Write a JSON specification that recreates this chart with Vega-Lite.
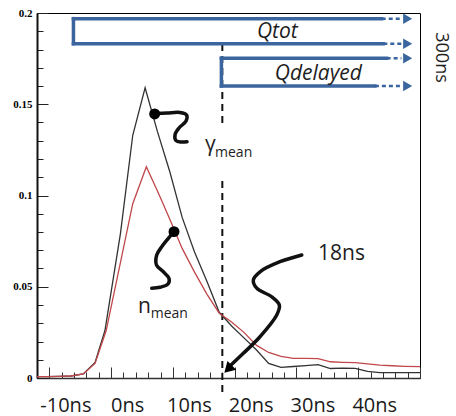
{
  "$schema": "https://vega.github.io/schema/vega-lite/v6.json",
  "width": 383,
  "height": 365,
  "autosize": {"type": "none"},
  "padding": {"left": 37, "top": 13, "right": 36, "bottom": 38},
  "config": {"view": {"stroke": "#000", "strokeWidth": 1}, "font": "Open Sans"},
  "datasets": {
    "curves": [
      {"s": "gamma", "t": -12, "v": 0.0008}, {"s": "gamma", "t": -10.5, "v": 0.0008}, {"s": "gamma", "t": -8.5, "v": 0.0009},
      {"s": "gamma", "t": -6.5, "v": 0.0011}, {"s": "gamma", "t": -4.5, "v": 0.0022}, {"s": "gamma", "t": -2.6, "v": 0.0085},
      {"s": "gamma", "t": -1.0, "v": 0.026}, {"s": "gamma", "t": 1.5, "v": 0.079}, {"s": "gamma", "t": 3.5, "v": 0.133},
      {"s": "gamma", "t": 5.5, "v": 0.159}, {"s": "gamma", "t": 7.5, "v": 0.135}, {"s": "gamma", "t": 9.5, "v": 0.113},
      {"s": "gamma", "t": 11.5, "v": 0.088}, {"s": "gamma", "t": 13.5, "v": 0.069}, {"s": "gamma", "t": 15.5, "v": 0.053},
      {"s": "gamma", "t": 17.5, "v": 0.036}, {"s": "gamma", "t": 19.5, "v": 0.0285}, {"s": "gamma", "t": 21.5, "v": 0.022},
      {"s": "gamma", "t": 23.5, "v": 0.0155}, {"s": "gamma", "t": 25.5, "v": 0.008}, {"s": "gamma", "t": 27.5, "v": 0.0058},
      {"s": "gamma", "t": 29.5, "v": 0.0063}, {"s": "gamma", "t": 31.5, "v": 0.0068}, {"s": "gamma", "t": 33.5, "v": 0.0073},
      {"s": "gamma", "t": 35.5, "v": 0.0052}, {"s": "gamma", "t": 37.5, "v": 0.0054}, {"s": "gamma", "t": 39.5, "v": 0.0053},
      {"s": "gamma", "t": 41.5, "v": 0.0036}, {"s": "gamma", "t": 43.5, "v": 0.003}, {"s": "gamma", "t": 45.5, "v": 0.003},
      {"s": "gamma", "t": 47.5, "v": 0.003}, {"s": "gamma", "t": 50, "v": 0.003},
      {"s": "n", "t": -12, "v": 0.0008}, {"s": "n", "t": -10.5, "v": 0.0008}, {"s": "n", "t": -8.5, "v": 0.0009},
      {"s": "n", "t": -6.5, "v": 0.0011}, {"s": "n", "t": -4.5, "v": 0.0022}, {"s": "n", "t": -2.6, "v": 0.008},
      {"s": "n", "t": -0.8, "v": 0.026}, {"s": "n", "t": 3.5, "v": 0.0955}, {"s": "n", "t": 5.7, "v": 0.1158},
      {"s": "n", "t": 7.5, "v": 0.1025}, {"s": "n", "t": 9.5, "v": 0.087}, {"s": "n", "t": 11.5, "v": 0.071},
      {"s": "n", "t": 13.5, "v": 0.058}, {"s": "n", "t": 15.5, "v": 0.046}, {"s": "n", "t": 17.5, "v": 0.0355},
      {"s": "n", "t": 19.5, "v": 0.0307}, {"s": "n", "t": 21.5, "v": 0.025}, {"s": "n", "t": 23.5, "v": 0.018},
      {"s": "n", "t": 25.5, "v": 0.014}, {"s": "n", "t": 27.5, "v": 0.0118}, {"s": "n", "t": 29.5, "v": 0.0108},
      {"s": "n", "t": 31.5, "v": 0.0108}, {"s": "n", "t": 33.5, "v": 0.0106}, {"s": "n", "t": 35.5, "v": 0.0089},
      {"s": "n", "t": 37.5, "v": 0.0086}, {"s": "n", "t": 39.5, "v": 0.0084}, {"s": "n", "t": 41.5, "v": 0.0077},
      {"s": "n", "t": 43.5, "v": 0.0071}, {"s": "n", "t": 45.5, "v": 0.0067}, {"s": "n", "t": 47.5, "v": 0.0064},
      {"s": "n", "t": 50, "v": 0.0062}
    ],
    "dashes": [
      {"t": 18, "v": -0.0077, "v2": 0.1096},
      {"t": 18, "v": 0.1397, "v2": 0.1825}
    ],
    "blueSolid": [
      {"t": -6.1, "t2": 43.8, "v": 0.1969, "v2": 0.1969},
      {"t": -6.1, "t2": 44.06, "v": 0.1832, "v2": 0.1832},
      {"t": -6.1, "t2": -6.1, "v": 0.1832, "v2": 0.1969},
      {"t": 17.85, "t2": 44.6, "v": 0.1752, "v2": 0.1752},
      {"t": 17.85, "t2": 42.7, "v": 0.16, "v2": 0.16},
      {"t": 17.85, "t2": 17.85, "v": 0.16, "v2": 0.1752}
    ],
    "blueDashed": [
      {"t": 43.8, "t2": 47.0, "v": 0.1969, "v2": 0.1969},
      {"t": 44.06, "t2": 47.0, "v": 0.1832, "v2": 0.1832},
      {"t": 44.6, "t2": 47.0, "v": 0.1752, "v2": 0.1752},
      {"t": 42.7, "t2": 47.0, "v": 0.16, "v2": 0.16}
    ],
    "blueHeads": [
      {"t": 48.0, "v": 0.1969}, {"t": 48.0, "v": 0.1832}, {"t": 48.0, "v": 0.1752}, {"t": 48.0, "v": 0.16}
    ],
    "squiggles": [
      {"g": "gamma", "i": 0, "t": 7.11, "v": 0.1449}, {"g": "gamma", "i": 1, "t": 9.05, "v": 0.1452},
      {"g": "gamma", "i": 2, "t": 11.15, "v": 0.1455}, {"g": "gamma", "i": 3, "t": 12.21, "v": 0.1441},
      {"g": "gamma", "i": 4, "t": 12.13, "v": 0.1408}, {"g": "gamma", "i": 5, "t": 10.99, "v": 0.137},
      {"g": "gamma", "i": 6, "t": 10.35, "v": 0.1334}, {"g": "gamma", "i": 7, "t": 10.51, "v": 0.1301},
      {"g": "gamma", "i": 8, "t": 11.32, "v": 0.1293}, {"g": "gamma", "i": 9, "t": 12.29, "v": 0.1295},
      {"g": "n", "i": 0, "t": 10.18, "v": 0.0802}, {"g": "n", "i": 1, "t": 9.26, "v": 0.0765},
      {"g": "n", "i": 2, "t": 8.19, "v": 0.0719}, {"g": "n", "i": 3, "t": 7.38, "v": 0.0674},
      {"g": "n", "i": 4, "t": 7.35, "v": 0.0619}, {"g": "n", "i": 5, "t": 8.45, "v": 0.0582},
      {"g": "n", "i": 6, "t": 9.37, "v": 0.0546}, {"g": "n", "i": 7, "t": 9.21, "v": 0.0515},
      {"g": "n", "i": 8, "t": 7.92, "v": 0.0497}, {"g": "n", "i": 9, "t": 6.57, "v": 0.0492},
      {"g": "arrow", "i": 0, "t": 30.86, "v": 0.0674}, {"g": "arrow", "i": 1, "t": 27.34, "v": 0.0637},
      {"g": "arrow", "i": 2, "t": 24.1, "v": 0.0582}, {"g": "arrow", "i": 3, "t": 23.02, "v": 0.0537},
      {"g": "arrow", "i": 4, "t": 23.57, "v": 0.0492}, {"g": "arrow", "i": 5, "t": 26.0, "v": 0.0445},
      {"g": "arrow", "i": 6, "t": 27.23, "v": 0.04}, {"g": "arrow", "i": 7, "t": 26.81, "v": 0.0345},
      {"g": "arrow", "i": 8, "t": 24.1, "v": 0.0226}, {"g": "arrow", "i": 9, "t": 21.4, "v": 0.0135},
      {"g": "arrow", "i": 10, "t": 19.25, "v": 0.0066}
    ],
    "dots": [{"t": 7.05, "v": 0.1447}, {"t": 10.18, "v": 0.0802}],
    "arrowHead": [{"t": 18.93, "v": 0.0049}],
    "bigText": [
      {"txt": "18ns", "t": 33.5, "v": 0.0647},
      {"txt": "γ", "t": 15.2, "v": 0.1244},
      {"txt": "n", "t": 4.35, "v": 0.0356}
    ],
    "subText": [
      {"txt": "mean", "t": 16.82, "v": 0.1211},
      {"txt": "mean", "t": 6.41, "v": 0.0327}
    ],
    "qText": [
      {"txt": "Qtot", "t": 26.9, "v": 0.1861},
      {"txt": "Qdelayed", "t": 33.55, "v": 0.1633}
    ],
    "sideText": [{"txt": "300ns", "t": 52.6, "v": 0.1756}]
  },
  "encoding": {
    "x": {
      "field": "t",
      "type": "quantitative",
      "scale": {"domain": [-12, 50], "nice": false, "zero": false},
      "axis": {
        "title": null,
        "grid": false,
        "values": [-10, -8, -6, -4, -2, 0, 2, 4, 6, 8, 10, 12, 14, 16, 18, 20, 22, 24, 26, 28, 30, 32, 34, 36, 38, 40, 42, 44, 46, 48, 50],
        "labelExpr": "datum.value % 10 === 0 && datum.value < 50 ? datum.value + 'ns' : ''",
        "tickSize": {"condition": {"test": "datum.value % 10 === 0", "value": -11}, "value": -6},
        "tickColor": "#333",
        "tickWidth": 1,
        "domainColor": "#333",
        "domainWidth": 1.5,
        "labelOffset": 16,
        "labelPadding": 44,
        "labelBaseline": "alphabetic",
        "labelFont": "Open Sans",
        "labelFontSize": 20,
        "labelColor": "#1a1a1a",
        "labelOverlap": false,
        "labelFlush": false
      }
    },
    "y": {
      "field": "v",
      "type": "quantitative",
      "scale": {"domain": [0, 0.2], "nice": false, "zero": false},
      "axis": {
        "title": null,
        "grid": false,
        "values": [0, 0.01, 0.02, 0.03, 0.04, 0.05, 0.06, 0.07, 0.08, 0.09, 0.1, 0.11, 0.12, 0.13, 0.14, 0.15, 0.16, 0.17, 0.18, 0.19, 0.2],
        "labelExpr": "abs(datum.value * 20 - round(datum.value * 20)) < 0.001 ? format(datum.value, '~g') : ''",
        "tickSize": {"condition": {"test": "abs(datum.value * 20 - round(datum.value * 20)) < 0.001", "value": -11}, "value": -6},
        "tickColor": "#222",
        "tickWidth": 1,
        "domainColor": "#111",
        "domainWidth": 2,
        "labelPadding": 16,
        "labelFont": "Liberation Serif",
        "labelFontWeight": "bold",
        "labelFontSize": 11,
        "labelColor": "#000",
        "labelOverlap": false,
        "labelFlush": false
      }
    }
  },
  "layer": [
    {
      "data": {"name": "dashes"},
      "mark": {"type": "rule", "color": "#111", "strokeWidth": 2, "strokeDash": [7, 5]},
      "encoding": {"y2": {"field": "v2"}}
    },
    {
      "data": {"name": "curves"},
      "mark": {"type": "line", "strokeWidth": 1.3},
      "encoding": {
        "color": {"field": "s", "type": "nominal", "scale": {"domain": ["n", "gamma"], "range": ["#c0474a", "#333333"]}, "legend": null}
      }
    },
    {
      "data": {"name": "blueSolid"},
      "mark": {"type": "rule", "color": "#3a659e", "strokeWidth": 3.5, "strokeCap": "square"},
      "encoding": {"x2": {"field": "t2"}, "y2": {"field": "v2"}}
    },
    {
      "data": {"name": "blueDashed"},
      "mark": {"type": "rule", "color": "#3a659e", "strokeWidth": 2.5, "strokeDash": [4, 3]},
      "encoding": {"x2": {"field": "t2"}, "y2": {"field": "v2"}}
    },
    {
      "data": {"name": "blueHeads"},
      "mark": {"type": "point", "shape": "triangle-right", "filled": true, "color": "#3a659e", "size": 110, "opacity": 1}
    },
    {
      "data": {"name": "squiggles"},
      "mark": {"type": "line", "color": "#111", "strokeWidth": 3.5, "interpolate": "catmull-rom", "strokeCap": "round"},
      "encoding": {"detail": {"field": "g"}, "order": {"field": "i", "type": "quantitative"}}
    },
    {
      "data": {"name": "dots"},
      "mark": {"type": "point", "shape": "circle", "filled": true, "color": "#000", "size": 120, "opacity": 1}
    },
    {
      "data": {"name": "arrowHead"},
      "mark": {"type": "point", "shape": "triangle-up", "filled": true, "color": "#000", "size": 150, "angle": 225, "opacity": 1}
    },
    {
      "data": {"name": "bigText"},
      "mark": {"type": "text", "font": "Open Sans", "fontSize": 21, "align": "left", "baseline": "alphabetic", "color": "#1e1e1e"},
      "encoding": {"text": {"field": "txt"}}
    },
    {
      "data": {"name": "subText"},
      "mark": {"type": "text", "font": "Open Sans", "fontSize": 14, "align": "left", "baseline": "alphabetic", "color": "#1e1e1e"},
      "encoding": {"text": {"field": "txt"}}
    },
    {
      "data": {"name": "qText"},
      "mark": {"type": "text", "font": "Open Sans", "fontSize": 21, "fontStyle": "italic", "align": "center", "baseline": "alphabetic", "color": "#1e1e1e"},
      "encoding": {"text": {"field": "txt"}}
    },
    {
      "data": {"name": "sideText"},
      "mark": {"type": "text", "font": "Open Sans", "fontSize": 18, "align": "center", "baseline": "alphabetic", "angle": 90, "color": "#1e1e1e"},
      "encoding": {"text": {"field": "txt"}}
    }
  ]
}
